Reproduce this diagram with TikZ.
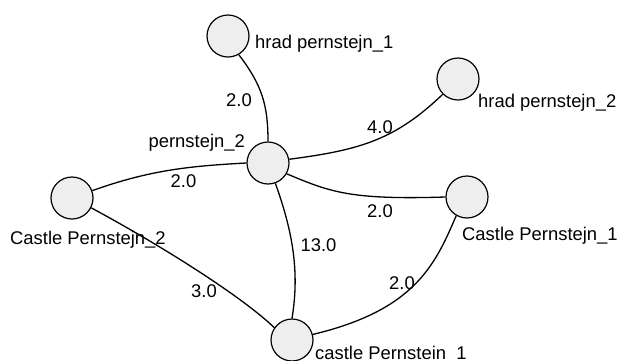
\documentclass[tikz,border=0pt]{standalone}
\usepackage{fontspec}
\setmainfont{Liberation Sans}
\definecolor{nodefill}{HTML}{EEEEEE}
\begin{document}
\begin{tikzpicture}[x=1pt,y=-1pt,
  vert/.style={circle,draw=black,fill=nodefill,line width=1.2pt,minimum size=42pt,inner sep=0pt},
  lbl/.style={inner sep=0pt,font=\fontsize{18.4}{20}\selectfont},
  elabel/.style={inner sep=0pt,font=\fontsize{18.4}{20}\selectfont,anchor=base},
  edge/.style={draw=black,line width=1.3pt}]
\useasboundingbox (0,0) rectangle (621,360);
\node[vert] (h1) at (228,36) {};
\node[vert] (h2) at (458,79) {};
\node[vert] (p2) at (268,163) {};
\node[vert] (c2) at (72,198) {};
\node[vert] (c1) at (467,197) {};
\node[vert] (cp) at (292,340) {};
\node[lbl,anchor=base west] (th1) at (255,48) {hrad pernstejn\_1};
\node[lbl,anchor=base west] (th2) at (478,107) {hrad pernstejn\_2};
\node[lbl,anchor=base east] (tp2) at (245,147) {pernstejn\_2};
\node[lbl,anchor=base west] (tc2) at (10,244) {Castle Pernstejn\_2};
\node[lbl,anchor=base west] (tc1) at (462,240) {Castle Pernstejn\_1};
\node[lbl,anchor=base west] (tcp) at (315,359) {castle Pernstein\_1};
\path[edge] (h1.-60) .. controls (262,85) and (268,105) .. (p2.north);
\path[edge] (p2.10) .. controls (360,150) and (395,140) .. (h2.-135);
\path[edge] (p2.west) .. controls (190,166) and (150,170) .. (c2.20);
\path[edge] (p2.-30) .. controls (330,192) and (350,200) .. (c1.west);
\path[edge] (p2.-70) .. controls (292,230) and (300,270) .. (cp.north);
\path[edge] (c2.-27) .. controls (160,245) and (240,295) .. (cp.145);
\path[edge] (c1.-120) .. controls (435,265) and (415,310) .. (cp.15);
\node[elabel] (e1) at (239,106) {2.0};
\node[elabel] (e2) at (380,133) {4.0};
\node[elabel] (e3) at (183.5,187) {2.0};
\node[elabel] (e4) at (380,217) {2.0};
\node[elabel] (e5) at (318.5,251) {13.0};
\node[elabel] (e6) at (402,289) {2.0};
\node[elabel] (e7) at (204,297) {3.0};
\end{tikzpicture}
\end{document}
